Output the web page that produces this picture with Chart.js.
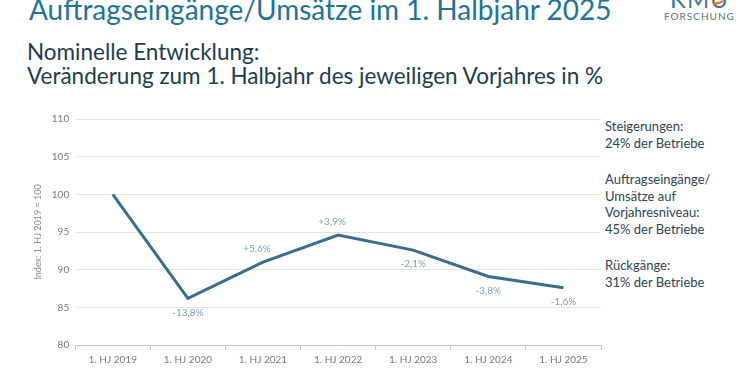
<!DOCTYPE html>
<html lang="de">
<head>
<meta charset="utf-8">
<script src="https://cdn.jsdelivr.net/npm/chart.js@4"></script>
<style>
  html, body { margin: 0; padding: 0; background: #fff; }
  body { width: 750px; height: 375px; position: relative; overflow: hidden; font-family: Lato, "Open Sans", sans-serif; }
  .titel { position: absolute; left: 29px; top: -8px; font-size: 28px; color: #22729a; white-space: nowrap; }
  .logo { position: absolute; left: 664px; top: -16px; color: #3e6f8c; text-align: center; }
  .logo .kmu { font-size: 24px; letter-spacing: 1px; color: #44789a; }
  .logo .fs { font-size: 10px; letter-spacing: 1px; margin-top: -3px; color: #55708a; }
  .logo .swoosh { position: absolute; left: 50px; top: 8px; width: 12px; height: 10px; border-bottom: 3px solid #e0803a; border-radius: 0 0 10px 0; }
  .unter { position: absolute; left: 27px; top: 40px; font-size: 22.5px; line-height: 24px; color: #1b3d4e; white-space: nowrap; }
  .info { position: absolute; left: 605px; top: 118px; font-size: 13px; line-height: 16.5px; color: #2f4450; }
  .info p { margin: 0 0 20px 0; }
  #wrap { position: absolute; left: 29px; top: 107px; width: 576px; height: 263px; }
</style>
</head>
<body>
<div class="titel">Auftragseingänge/Umsätze im 1. Halbjahr 2025</div>
<div class="logo"><div class="kmu">KMU</div><div class="swoosh"></div><div class="fs">FORSCHUNG</div></div>
<div class="unter">Nominelle Entwicklung:<br>Veränderung zum 1. Halbjahr des jeweiligen Vorjahres in %</div>
<div class="info">
  <p>Steigerungen:<br>24% der Betriebe</p>
  <p>Auftragseingänge/<br>Umsätze auf<br>Vorjahresniveau:<br>45% der Betriebe</p>
  <p>Rückgänge:<br>31% der Betriebe</p>
</div>
<div id="wrap"><canvas id="indexChart"></canvas></div>
<script>
// Index 1. HJ 2019 = 100
const halbjahre = ['1. HJ 2019', '1. HJ 2020', '1. HJ 2021', '1. HJ 2022', '1. HJ 2023', '1. HJ 2024', '1. HJ 2025'];
const indexWerte = [100, 86.2, 91.0, 94.6, 92.6, 89.1, 87.6];
const veraenderung = ['', '-13,8%', '+5,6%', '+3,9%', '-2,1%', '-3,8%', '-1,6%'];

const labelPlugin = {
    id: 'veraenderungLabels',
    afterDatasetsDraw(chart) {
        const ctx = chart.ctx;
        const meta = chart.getDatasetMeta(0);
        ctx.save();
        ctx.font = '10px Lato, "Open Sans", sans-serif';
        ctx.fillStyle = '#7fa2b6';
        ctx.textAlign = 'center';
        meta.data.forEach((pt, i) => {
            const txt = veraenderung[i];
            if (!txt) return;
            if (txt.startsWith('+')) {
                ctx.textBaseline = 'bottom';
                ctx.fillText(txt, pt.x - 6, pt.y - 8);
            } else {
                ctx.textBaseline = 'top';
                ctx.fillText(txt, pt.x, pt.y + 9);
            }
        });
        ctx.restore();
    }
};

const ctx = document.getElementById('indexChart').getContext('2d');
new Chart(ctx, {
    type: 'line',
    data: {
        labels: halbjahre,
        datasets: [{
            data: indexWerte,
            borderColor: '#3b6d8c',
            borderWidth: 3,
            pointRadius: 0,
            tension: 0,
            fill: false
        }]
    },
    options: {
        responsive: true,
        maintainAspectRatio: false,
        animation: false,
        layout: { padding: { top: 8, right: 4, bottom: 0, left: 2 } },
        plugins: {
            legend: { display: false },
            tooltip: { enabled: false }
        },
        scales: {
            x: {
                offset: true,
                grid: { display: true, drawOnChartArea: false, drawTicks: true, tickLength: 5, offset: true, color: '#c8c8c8' },
                border: { display: true, color: '#c8c8c8' },
                ticks: { color: '#7a7a7a', font: { family: 'Lato', size: 10 }, maxRotation: 0, padding: 4 }
            },
            y: {
                min: 80,
                max: 110,
                ticks: { stepSize: 5, color: '#7a7a7a', font: { family: 'Lato', size: 10 }, padding: 6 },
                grid: { color: '#e4e4e4', drawTicks: false },
                border: { display: false },
                title: { display: true, text: 'Index: 1. HJ 2019 = 100', color: '#8a8a8a', font: { family: 'Lato', size: 9 }, padding: 2 }
            }
        }
    },
    plugins: [labelPlugin]
});
</script>
</body>
</html>
